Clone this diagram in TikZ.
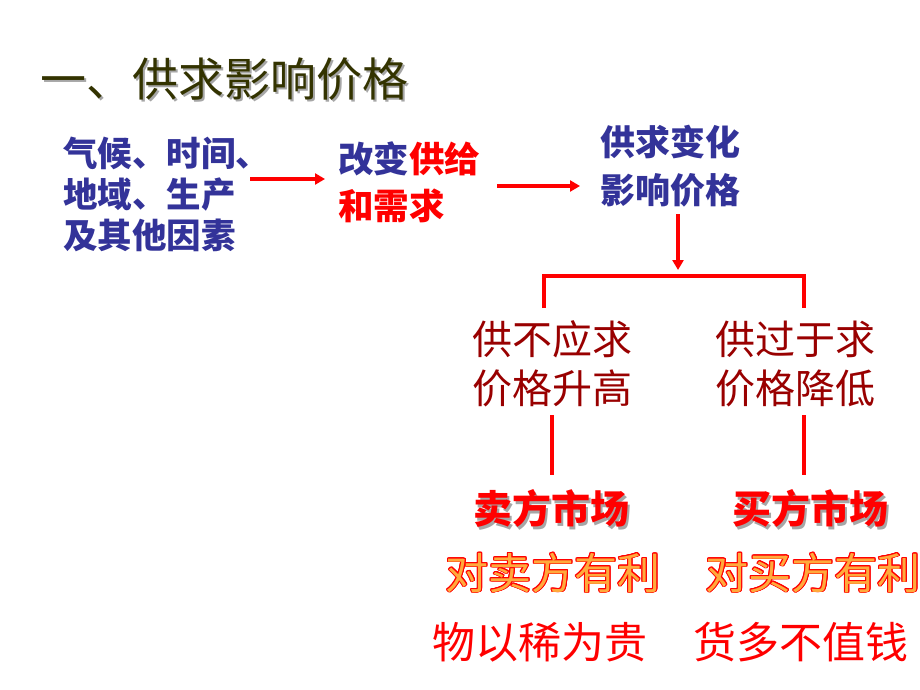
\documentclass[tikz,border=0pt]{standalone}
\usepackage{fontspec}
\setmainfont{Noto Sans CJK SC}
\usepackage[copies]{contour}
\usetikzlibrary{arrows.meta}
\definecolor{titlec}{RGB}{51,51,0}
\definecolor{bluec}{RGB}{51,51,153}
\definecolor{darkredc}{RGB}{153,0,0}
\definecolor{redc}{RGB}{255,0,0}
\definecolor{orangec}{RGB}{255,170,60}
\newcommand{\shadtxt}[2]{\makebox[0pt][l]{\hspace{#1}\raisebox{-#1}{\color{black!35}#2}}#2}
\tikzset{
  txt/.style={inner sep=0pt, outer sep=0pt},
  conn/.style={draw=redc, line width=3.4pt},
  arr/.style={conn, -{Triangle[length=10pt,width=11pt]}},
}
\begin{document}
\begin{tikzpicture}[x=1pt,y=-1pt]
\useasboundingbox[fill=white] (0,0) rectangle (920,690);
% title
\node[txt, anchor=west, text=titlec, font=\fontsize{46pt}{50pt}\selectfont] (title) at (40,80) {\shadtxt{2.5pt}{一、供求影响价格}};
% left block
\node[txt, anchor=west, align=left, text=bluec, font=\bfseries\fontsize{34.5pt}{41pt}\selectfont] (factors) at (63,194) {气候、时间、\\地域、生产\\及其他因素};
% change supply and demand
\node[txt, anchor=west, align=left, font=\bfseries\fontsize{35.5pt}{47pt}\selectfont] (change) at (338,182) {\textcolor{bluec}{改变}\textcolor{redc}{供给}\\\textcolor{redc}{和需求}};
% supply-demand affects price
\node[txt, anchor=west, align=left, text=bluec, font=\bfseries\fontsize{35pt}{48pt}\selectfont] (affect) at (600,166) {供求变化\\影响价格};
% arrows
\coordinate (a1s) at (250,179);
\coordinate (a1e) at (325,179);
\coordinate (a2s) at (497,186);
\coordinate (a2e) at (580,186);
\coordinate (a3s) at (678,214);
\coordinate (a3e) at (678,270);
\draw[arr] (a1s) -- (a1e);
\draw[arr] (a2s) -- (a2e);
\draw[arr] (a3s) -- (a3e);
% bracket
\coordinate (bl) at (544,308);
\coordinate (br) at (804,308);
\draw[conn] (bl) -- (544,276) -- (804,276) -- (br);
% two cases
\node[txt, align=center, text=darkredc, font=\fontsize{40pt}{49pt}\selectfont] (short) at (552,364) {供不应求\\价格升高};
\node[txt, align=center, text=darkredc, font=\fontsize{40pt}{49pt}\selectfont] (surplus) at (795,364) {供过于求\\价格降低};
% vertical lines
\coordinate (l1s) at (552,415);
\coordinate (l1e) at (552,475);
\coordinate (l2s) at (804,415);
\coordinate (l2e) at (804,475);
\draw[conn] (l1s) -- (l1e);
\draw[conn] (l2s) -- (l2e);
% markets
\node[txt, text=redc, font=\bfseries\fontsize{39pt}{44pt}\selectfont] (sellm) at (551,510) {\shadtxt{2.5pt}{卖方市场}};
\node[txt, text=redc, font=\bfseries\fontsize{39pt}{44pt}\selectfont] (buym) at (810,510) {\shadtxt{2.5pt}{买方市场}};
% favourable
\contourlength{0.7pt}
\node[txt, text=orangec, font=\fontsize{43pt}{48pt}\selectfont] (sellf) at (553,573) {\contour{redc}{对卖方有利}};
\node[txt, text=orangec, font=\fontsize{43pt}{48pt}\selectfont] (buyf) at (813,573) {\contour{redc}{对买方有利}};
% sayings
\node[txt, text=redc, font=\fontsize{43pt}{48pt}\selectfont] (rare) at (540,642) {物以稀为贵};
\node[txt, text=redc, font=\fontsize{43pt}{48pt}\selectfont] (cheap) at (801,642) {货多不值钱};
\end{tikzpicture}
\end{document}
